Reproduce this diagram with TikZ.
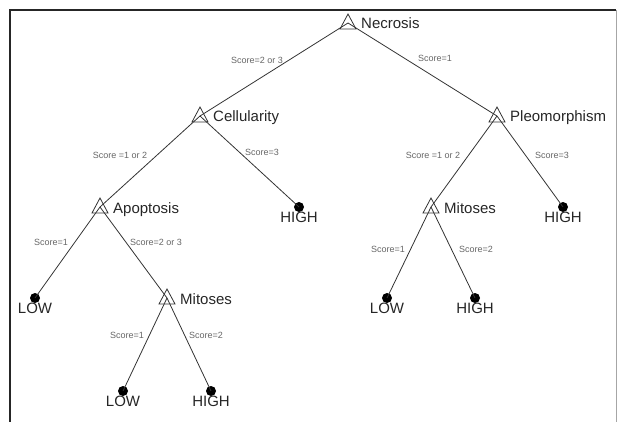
\documentclass[tikz,border=0pt]{standalone}
\usepackage{fontspec}
\setmainfont{Liberation Sans}
\begin{document}
\begin{tikzpicture}[x=1pt,y=-1pt,
  edge/.style={draw=black!80, line width=0.8pt},
  lab/.style={font=\fontsize{15}{18}\selectfont, text=black!85, inner sep=0},
  sc/.style={font=\fontsize{9}{11}\selectfont, text=black!60, inner sep=0},
  leaf/.style={circle, fill=black, inner sep=0, minimum size=10pt},
  tri/.pic={\draw[line width=0.8pt, draw=black!80] (0,-9) -- (8,6) -- (-8,6) -- cycle;}
]
\useasboundingbox (0,0) rectangle (617,422);

% frame
\draw[line width=1.2pt, draw=black!85] (10,422) -- (10,10) -- (616,10);
\draw[line width=1pt, draw=black!35] (616,10) -- (616,422);

% decision nodes
\coordinate (nec) at (348,23);
\coordinate (cel) at (200,116);
\coordinate (ple) at (497,116);
\coordinate (apo) at (100,207);
\coordinate (mitl) at (167,298);
\coordinate (mitr) at (431,207);

% leaf nodes
\node[leaf] (low1) at (35,298) {};
\node[leaf] (high1) at (299,207) {};
\node[leaf] (low2) at (123,391) {};
\node[leaf] (high2) at (211,391) {};
\node[leaf] (high3) at (563,207) {};
\node[leaf] (low3) at (387,298) {};
\node[leaf] (high4) at (475,298) {};

% branches
\draw[edge] (nec) -- (cel);
\draw[edge] (nec) -- (ple);
\draw[edge] (cel) -- (apo);
\draw[edge] (cel) -- (high1.center);
\draw[edge] (apo) -- (low1.center);
\draw[edge] (apo) -- (mitl);
\draw[edge] (mitl) -- (low2.center);
\draw[edge] (mitl) -- (high2.center);
\draw[edge] (ple) -- (mitr);
\draw[edge] (ple) -- (high3.center);
\draw[edge] (mitr) -- (low3.center);
\draw[edge] (mitr) -- (high4.center);

% split markers
\foreach \n in {nec,cel,ple,apo,mitl,mitr} {
  \pic at (\n) {tri};
}

% split variable names
\node[lab, anchor=base west] (necl) at (361,29) {Necrosis};
\node[lab, anchor=base west] (cell) at (213,122) {Cellularity};
\node[lab, anchor=base west] (plel) at (510,122) {Pleomorphism};
\node[lab, anchor=base west] (apol) at (113,213) {Apoptosis};
\node[lab, anchor=base west] (mitll) at (180,304) {Mitoses};
\node[lab, anchor=base west] (mitrl) at (444,213) {Mitoses};

% outcomes
\node[lab, anchor=base] (low1l) at (35,313) {LOW};
\node[lab, anchor=base] (high1l) at (299,222) {HIGH};
\node[lab, anchor=base] (low2l) at (123,406) {LOW};
\node[lab, anchor=base] (high2l) at (211,406) {HIGH};
\node[lab, anchor=base] (high3l) at (563,222) {HIGH};
\node[lab, anchor=base] (low3l) at (387,313) {LOW};
\node[lab, anchor=base] (high4l) at (475,313) {HIGH};

% branch conditions
\node[sc] (s1) at (257,60) {Score=2 or 3};
\node[sc] (s2) at (435,58) {Score=1};
\node[sc] (s3) at (120,155) {Score =1 or 2};
\node[sc] (s4) at (262,152) {Score=3};
\node[sc] (s5) at (433,155) {Score =1 or 2};
\node[sc] (s6) at (552,155) {Score=3};
\node[sc] (s7) at (51,242) {Score=1};
\node[sc] (s8) at (156,242) {Score=2 or 3};
\node[sc] (s9) at (127,335) {Score=1};
\node[sc] (s10) at (206,335) {Score=2};
\node[sc] (s11) at (388,249) {Score=1};
\node[sc] (s12) at (476,249) {Score=2};
\end{tikzpicture}
\end{document}
